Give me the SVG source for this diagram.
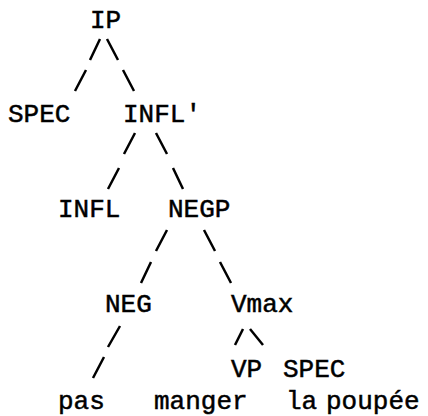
<svg xmlns="http://www.w3.org/2000/svg" width="428" height="416" viewBox="0 0 428 416">
  <style>
    .lbl { font-family: "Liberation Mono", "DejaVu Sans Mono", monospace; font-size: 26px; fill: #000; stroke: #000; stroke-width: 0.5; }
    .edge { stroke: #000; stroke-width: 2.5; stroke-linecap: butt; fill: none; }
  </style>
  <rect width="428" height="416" fill="#fff"/>

  <!-- branch strokes, typed as slash characters -->
  <g id="connectors" class="edge">
    <path d="M100,39 L90,60 M86,70 L75,91"/>
    <path d="M107,39 L118,60 M123,70 L134,91"/>
    <path d="M135,133 L124,154 M119,168 L108,189"/>
    <path d="M156,133 L167,154 M173,168 L183,189"/>
    <path d="M167,230 L156,251 M151,262 L141,283"/>
    <path d="M204,230 L215,251 M220,262 L231,283"/>
    <path d="M120,326 L108,347 M104,357 L93,378"/>
    <path d="M243,329 L235,345"/>
    <path d="M250,329 L263,345"/>
  </g>

  <g id="n-ip"><text class="lbl" x="90" y="28">IP</text></g>
  <g id="n-spec1"><text class="lbl" x="8" y="122">SPEC</text></g>
  <g id="n-inflbar"><text class="lbl" x="123" y="122">INFL'</text></g>
  <g id="n-infl"><text class="lbl" x="58" y="217">INFL</text></g>
  <g id="n-negp"><text class="lbl" x="168" y="217">NEGP</text></g>
  <g id="n-neg"><text class="lbl" x="105" y="312">NEG</text></g>
  <g id="n-vmax"><text class="lbl" x="231" y="312">Vmax</text></g>
  <g id="n-vp"><text class="lbl" x="231" y="377">VP</text></g>
  <g id="n-spec2"><text class="lbl" x="283" y="377">SPEC</text></g>
  <g id="n-pas"><text class="lbl" x="58" y="409">pas</text></g>
  <g id="n-manger"><text class="lbl" x="154" y="409">manger</text></g>
  <g id="n-la"><text class="lbl" x="286" y="409">la</text></g>
  <g id="n-poupee"><text class="lbl" x="326" y="409">poupée</text></g>
</svg>
